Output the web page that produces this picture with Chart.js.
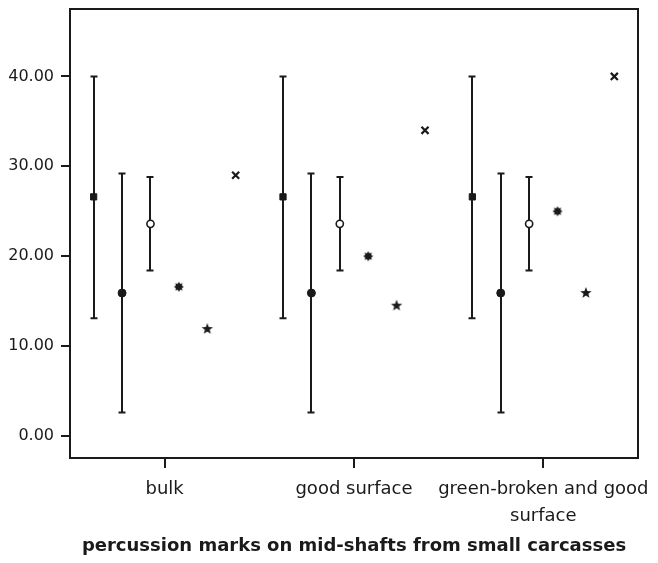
<!DOCTYPE html>
<html>
<head>
<meta charset="utf-8">
<script src="https://cdn.jsdelivr.net/npm/chart.js@4.4.1/dist/chart.umd.min.js"></script>
<style>
  html, body { margin: 0; padding: 0; background: #fff; }
  #wrap { width: 658px; height: 563px; }
</style>
</head>
<body>
<div id="wrap"><canvas id="chart"></canvas></div>
<script>
// x categories and tick labels
const categories = ['bulk', 'good surface', 'green-broken and good surface'];
const xTickLabels = ['bulk', 'good surface', ['green-broken and good', 'surface']];
const yTicks = [0, 10, 20, 30, 40];

// error bar series: mean, lower end, upper end
const barAMean = [26.6, 26.6, 26.6];
const barALow = [13.1, 13.1, 13.1];
const barAHigh = [40.0, 40.0, 40.0];

const barBMean = [15.9, 15.9, 15.9];
const barBLow = [2.6, 2.6, 2.6];
const barBHigh = [29.2, 29.2, 29.2];

const barCMean = [23.6, 23.6, 23.6];
const barCLow = [18.4, 18.4, 18.4];
const barCHigh = [28.8, 28.8, 28.8];

// single value series
const burstValues = [16.6, 20.0, 25.0];
const starValues = [11.9, 14.5, 15.9];
const crossValues = [29.0, 34.0, 40.0];

// horizontal slot of each series inside a category (in category units)
const slotOffsets = [-0.375, -0.225, -0.075, 0.075, 0.225, 0.375];

const ink = '#1a1a1a';

function makeBurst(outer, inner, points) {
  const c = document.createElement('canvas');
  const s = Math.ceil(outer * 2 + 2);
  c.width = s; c.height = s;
  const g = c.getContext('2d');
  g.fillStyle = ink;
  g.beginPath();
  for (let i = 0; i < points * 2; i++) {
    const r = i % 2 ? inner : outer;
    const a = -Math.PI / 2 + i * Math.PI / points;
    g.lineTo(s / 2 + r * Math.cos(a), s / 2 + r * Math.sin(a));
  }
  g.closePath();
  g.fill();
  return c;
}

const burstImg = makeBurst(5, 3.3, 8);
const starImg = makeBurst(6, 2.5, 5);

function toPoints(values, slot) {
  return values.map((v, i) => ({ x: i + 1 + slotOffsets[slot], y: v }));
}

const bars = [
  { low: barALow, high: barAHigh },
  { low: barBLow, high: barBHigh },
  { low: barCLow, high: barCHigh }
];

// draws the vertical whiskers under the mean markers
const errorBars = {
  id: 'errorBars',
  beforeDatasetsDraw(chart) {
    const { ctx, scales: { x, y } } = chart;
    ctx.save();
    ctx.strokeStyle = ink;
    ctx.lineWidth = 2;
    bars.forEach((b, s) => {
      categories.forEach((c, i) => {
        const px = Math.round(x.getPixelForValue(i + 1 + slotOffsets[s]));
        const top = y.getPixelForValue(b.high[i]);
        const bot = y.getPixelForValue(b.low[i]);
        ctx.beginPath();
        ctx.moveTo(px, top); ctx.lineTo(px, bot);
        ctx.moveTo(px - 3.5, top); ctx.lineTo(px + 3.5, top);
        ctx.moveTo(px - 3.5, bot); ctx.lineTo(px + 3.5, bot);
        ctx.stroke();
      });
    });
    ctx.restore();
  }
};

// box round the plot area
const frame = {
  id: 'frame',
  afterDraw(chart) {
    const { ctx, chartArea: a } = chart;
    ctx.save();
    ctx.strokeStyle = ink;
    ctx.lineWidth = 2;
    ctx.strokeRect(a.left, a.top, a.right - a.left, a.bottom - a.top);
    ctx.restore();
  }
};

const ctx = document.getElementById('chart').getContext('2d');
new Chart(ctx, {
  type: 'scatter',
  data: {
    datasets: [
      { data: toPoints(barAMean, 0), pointStyle: 'rect', pointRadius: 4.4, backgroundColor: ink, borderColor: ink, borderWidth: 1 },
      { data: toPoints(barBMean, 1), pointStyle: 'circle', pointRadius: 4, backgroundColor: ink, borderColor: ink, borderWidth: 1 },
      { data: toPoints(barCMean, 2), pointStyle: 'circle', pointRadius: 3.6, backgroundColor: '#fff', borderColor: ink, borderWidth: 1.6 },
      { data: toPoints(burstValues, 3), pointStyle: burstImg },
      { data: toPoints(starValues, 4), pointStyle: starImg },
      { data: toPoints(crossValues, 5), pointStyle: 'crossRot', pointRadius: 5, borderColor: ink, borderWidth: 2.2 }
    ]
  },
  options: {
    responsive: true,
    maintainAspectRatio: false,
    animation: false,
    events: [],
    layout: { padding: { top: 9, right: 20, left: 0, bottom: 0 } },
    plugins: { legend: { display: false }, tooltip: { enabled: false } },
    scales: {
      x: {
        type: 'linear',
        min: 0.5,
        max: 3.5,
        afterFit: s => { s.height = 105; s.paddingLeft = 0; s.paddingRight = 0; },
        afterBuildTicks: s => { s.ticks = categories.map((c, i) => ({ value: i + 1 })); },
        ticks: {
          callback: v => xTickLabels[v - 1],
          color: ink,
          maxRotation: 0,
          autoSkip: false,
          padding: 8,
          font: { family: 'DejaVu Sans', size: 18, lineHeight: 1.5 }
        },
        grid: { drawOnChartArea: false, drawTicks: true, tickLength: 10, color: ink, lineWidth: 2 },
        border: { display: false },
        title: {
          display: true,
          text: 'percussion marks on mid-shafts from small carcasses',
          color: ink,
          padding: { top: 0, bottom: 6 },
          font: { family: 'DejaVu Sans', size: 18, weight: 'bold' }
        }
      },
      y: {
        min: -2.45,
        max: 47.5,
        afterFit: s => { s.width = 70; s.paddingTop = 0; s.paddingBottom = 0; },
        afterBuildTicks: s => { s.ticks = yTicks.map(v => ({ value: v })); },
        ticks: {
          callback: v => v.toFixed(2),
          color: ink,
          padding: 7,
          font: { family: 'DejaVu Sans', size: 16 }
        },
        grid: { drawOnChartArea: false, drawTicks: true, tickLength: 9, color: ink, lineWidth: 2 },
        border: { display: false }
      }
    }
  },
  plugins: [errorBars, frame]
});
</script>
</body>
</html>
